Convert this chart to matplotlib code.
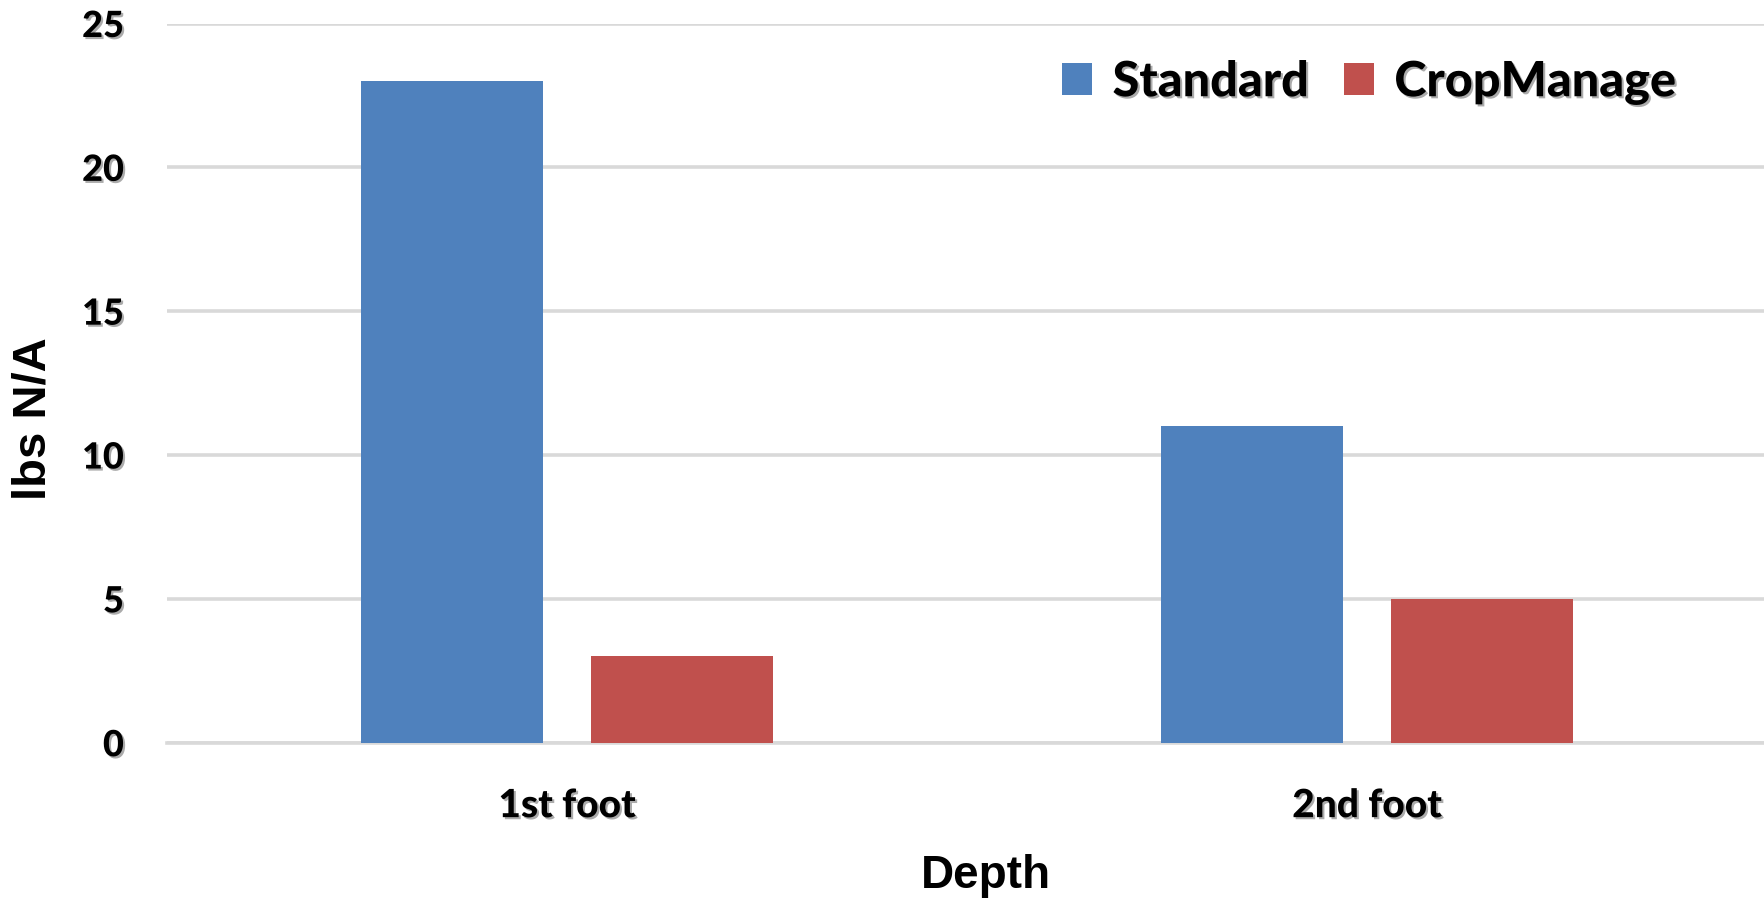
import matplotlib
matplotlib.use("Agg")
import matplotlib.pyplot as plt
import matplotlib.patheffects as pe
from matplotlib.patches import Patch
import numpy as np

categories = ["1st foot", "2nd foot"]
series_names = ["Standard", "CropManage"]
standard = [23, 11]
cropmanage = [3, 5]
yticks = [0, 5, 10, 15, 20, 25]

colors = ["#4F81BD", "#C0504D"]
grid_color = "#D9D9D9"
label_font = "Lato"
title_font = "Liberation Sans"

W, H, DPI = 1764, 901, 100
fig = plt.figure(figsize=(W / DPI, H / DPI), dpi=DPI)

left_px, right_px = 167, 1764
bottom_px, top_px = 742.7, 23.5
ax = fig.add_axes([left_px / W, 1 - bottom_px / H,
                   (right_px - left_px) / W, (bottom_px - top_px) / H])

shadow = [pe.SimplePatchShadow(offset=(1.5, -1.5), shadow_rgbFace="0.45", alpha=0.6),
          pe.Normal()]

x = np.arange(len(categories))
width = 0.2275
offset = 0.1435
ax.bar(x - offset, standard, width, color=colors[0], zorder=3)
ax.bar(x + offset, cropmanage, width, color=colors[1], zorder=3)

ax.set_xlim(-0.5, -0.5 + (right_px - left_px) / 800)
ax.set_ylim(0, 25)
ax.set_yticks(yticks)
ax.set_xticks(x)
ax.set_xticklabels(categories)

for s in ["top", "right", "left"]:
    ax.spines[s].set_visible(False)
ax.spines["bottom"].set_color(grid_color)
ax.spines["bottom"].set_linewidth(2.6)
ax.spines["bottom"].set_zorder(2)
ax.yaxis.grid(True, color=grid_color, linewidth=2.6, zorder=0)
ax.set_axisbelow(True)

ax.tick_params(axis="both", length=0)
ax.tick_params(axis="y", pad=31)
ax.tick_params(axis="x", pad=32)
for lab in ax.get_yticklabels():
    lab.set_fontfamily(label_font)
    lab.set_fontweight("black")
    lab.set_fontsize(26)
    lab.set_path_effects(shadow)
for lab in ax.get_xticklabels():
    lab.set_fontfamily(label_font)
    lab.set_fontweight("black")
    lab.set_fontsize(28)
    lab.set_path_effects(shadow)

fig.text(33 / W, 1 - 419 / H, "lbs N/A", rotation=90, ha="center", va="center",
         fontfamily=title_font, fontweight="bold", fontsize=34)
fig.text(986 / W, 1 - 876 / H, "Depth", ha="center", va="center",
         fontfamily=title_font, fontweight="bold", fontsize=33)

handles = [Patch(facecolor=c, edgecolor="none") for c in colors]
leg = fig.legend(handles, series_names, loc="center left",
                 bbox_to_anchor=(1062 / W, 1 - 82 / H), ncol=2, frameon=False,
                 borderpad=0, borderaxespad=0,
                 prop={"family": label_font, "weight": "black", "size": 35},
                 handlelength=0.62, handleheight=0.62, handletextpad=0.42,
                 columnspacing=0.72)
for t in leg.get_texts():
    t.set_path_effects(shadow)

fig.savefig("out.png", dpi=DPI, facecolor="white")
